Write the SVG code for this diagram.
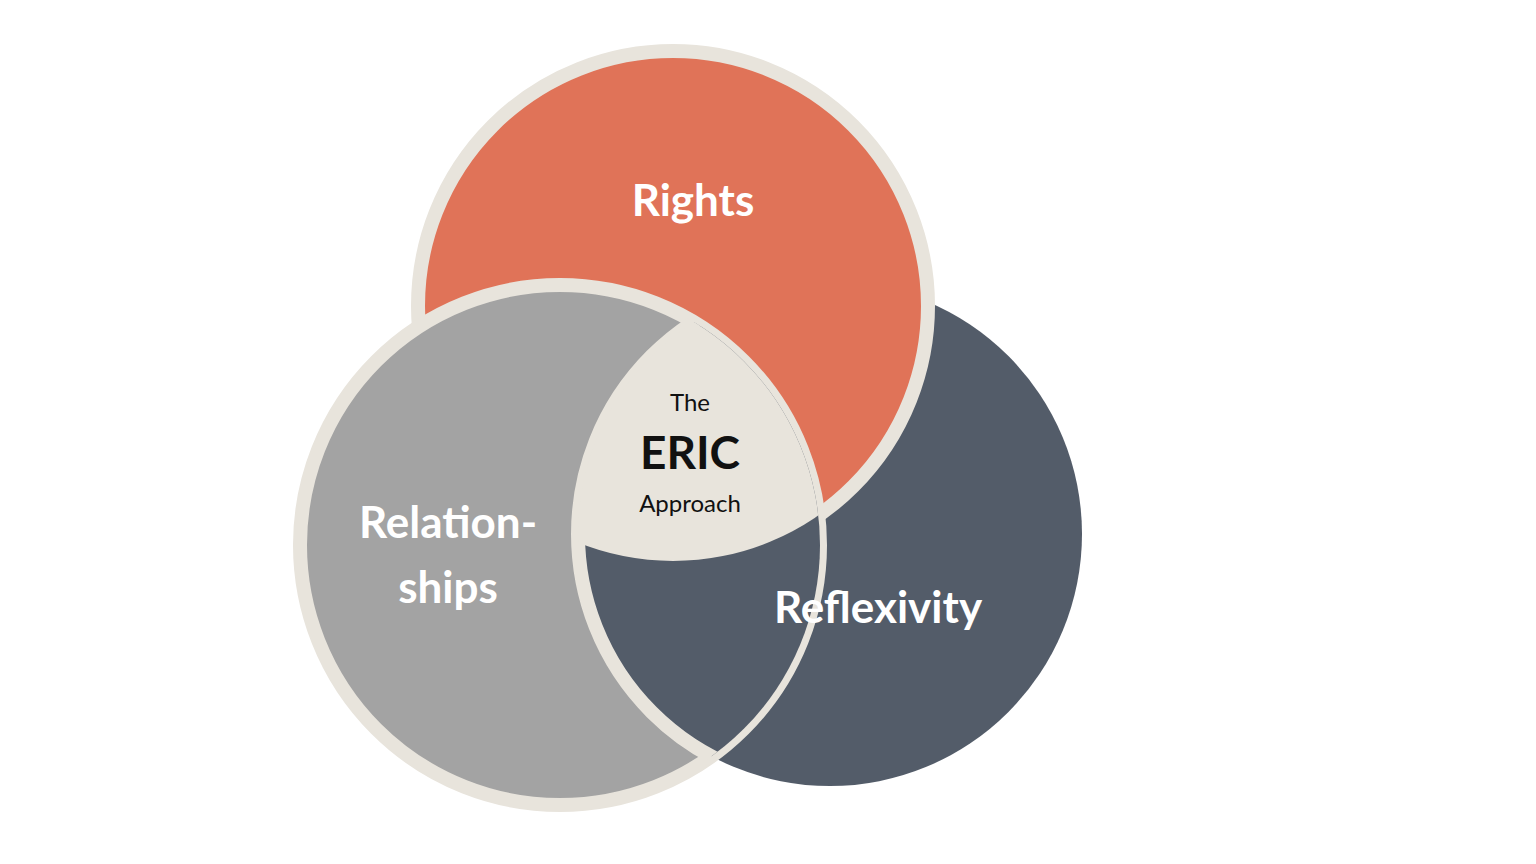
<svg xmlns="http://www.w3.org/2000/svg" width="1536" height="864" viewBox="0 0 1536 864">
<style>
.lbl{font-family:Lato,"Noto Sans",sans-serif;font-weight:bold;fill:#fff;text-anchor:middle}
.ctr{font-family:Lato,"Noto Sans",sans-serif;fill:#111;text-anchor:middle}
.ring{stroke:#e8e4dc;stroke-width:14}
</style>
<defs>
<clipPath id="cRel"><circle cx="560" cy="545" r="260"/></clipPath>
<clipPath id="cRights"><circle cx="673" cy="306" r="255"/></clipPath>
<clipPath id="cRef"><circle cx="830" cy="534" r="252"/></clipPath>
</defs>
<rect width="1536" height="864" fill="#fff"/>
<g id="reflexivity"><circle cx="830" cy="534" r="252" fill="#535c69"/></g>
<g id="rights"><circle class="ring" cx="673" cy="306" r="255" fill="#e07358"/></g>
<g id="relationships"><circle class="ring" cx="560" cy="545" r="260" fill="#a3a3a3"/></g>
<g id="reflexivity-overlap" clip-path="url(#cRel)"><circle class="ring" cx="830" cy="534" r="252" fill="#535c69"/></g>
<g id="center">
<g clip-path="url(#cRel)"><g clip-path="url(#cRights)"><circle cx="830" cy="534" r="252" fill="#e8e4dc" clip-path="url(#cRef)"/></g></g>
<text class="ctr" x="690" y="411" font-size="24">The</text>
<text class="ctr" x="690" y="469" font-size="46" font-weight="bold">ERIC</text>
<text class="ctr" x="690" y="512" font-size="24">Approach</text>
</g>
<text class="lbl" x="693" y="216" font-size="44">Rights</text>
<text class="lbl" x="448" y="538" font-size="44">Relation-</text>
<text class="lbl" x="448" y="603" font-size="44">ships</text>
<text class="lbl" x="878" y="623" font-size="44">Reflexivity</text>
<g id="connectors"/>
</svg>
